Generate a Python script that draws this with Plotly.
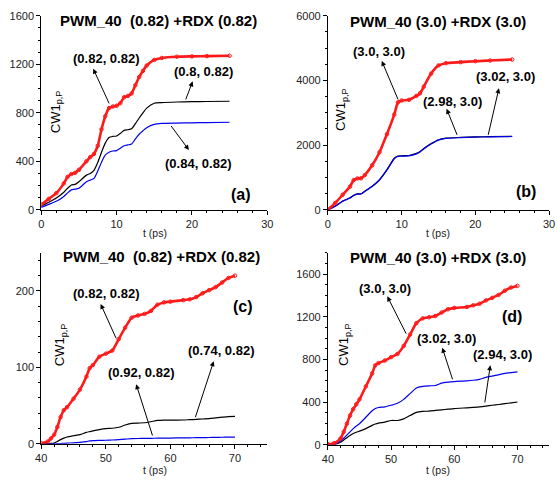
import plotly.graph_objects as go

PAGE_W, PAGE_H, OFF = 558, 483, 0
W, H = PAGE_W - OFF, PAGE_H - OFF

# ---------------- data ----------------
t_a = [0, 1, 2, 3, 3.5, 4, 4.5, 5, 6, 6.5, 7, 7.5, 8, 8.5, 9, 9.5, 10, 10.5, 11, 11.5,
       12, 12.5, 13, 13.5, 14, 15, 16, 18, 20, 22, 25]
red_a = [43, 90, 137, 218, 272, 295, 305, 330, 400, 434, 461, 528, 663, 771, 839, 852, 858,
         879, 928, 939, 960, 1028, 1095, 1145, 1190, 1236, 1252, 1262, 1265, 1267, 1270]
black_a = [30, 62, 97, 145, 178, 205, 210, 232, 286, 300, 326, 390, 474, 550, 596, 605, 609,
           630, 655, 660, 668, 710, 757, 800, 838, 879, 884, 889, 892, 893, 895]
blue_a = [20, 45, 70, 110, 140, 164, 170, 178, 232, 245, 259, 320, 393, 450, 474, 485, 488,
          508, 528, 535, 542, 585, 623, 652, 677, 704, 712, 715, 717, 719, 722]

t_b = [0, 1, 2, 3, 3.5, 4, 4.5, 5, 6, 7, 8, 9, 9.5, 10, 11, 12, 12.5, 13, 14, 15, 16, 18,
       20, 22, 25]
red_b = [0, 212, 465, 718, 920, 970, 975, 1073, 1376, 1781, 2338, 2945, 3320, 3381, 3400,
         3522, 3603, 3806, 4211, 4464, 4534, 4565, 4595, 4615, 4646]
blue_b = [0, 111, 263, 364, 445, 486, 490, 567, 719, 921, 1225, 1579, 1650, 1660, 1665,
          1731, 1790, 1883, 2034, 2156, 2206, 2230, 2247, 2255, 2267]
black_b = [0, 115, 268, 370, 452, 492, 495, 574, 728, 932, 1240, 1595, 1665, 1672, 1678,
           1745, 1802, 1895, 2048, 2168, 2215, 2238, 2254, 2262, 2275]

t_c = [40, 41, 41.5, 42, 42.5, 43, 43.5, 44, 45, 46, 47, 47.5, 48, 49, 50, 51, 52, 53, 54,
       55, 56, 57, 58, 59, 60, 62, 63, 64, 65, 66, 67, 68, 69, 70]
red_c = [1, 3, 7, 12, 22, 35, 44, 48, 59, 71, 88, 99, 103, 114, 118, 122, 137, 152, 165,
         168, 170, 174, 182, 185, 186, 188, 189, 192, 197, 201, 205, 211, 217, 220]
black_c = [0, 0.3, 0.5, 1, 3, 5.5, 7.5, 9, 10.6, 12, 15, 16, 17, 18.7, 20, 20.4, 21.7, 24.6,
           26.8, 27.2, 27.6, 29, 30.6, 31, 31, 31.2, 31.6, 32, 32.5, 33, 34, 35, 35.5, 36]
blue_c = [0, 0, 0, 0.1, 0.2, 0.4, 0.6, 0.9, 1.3, 2, 3, 3.8, 4.2, 4.5, 4.7, 5, 5.5, 6.1, 6.8,
          7, 7.1, 7.2, 7.4, 7.5, 7.6, 7.8, 7.9, 8, 8.1, 8.3, 8.5, 8.6, 8.8, 8.9]

t_d = [40, 41, 42, 42.5, 43, 43.5, 44, 44.5, 45, 46, 47, 47.5, 48, 49, 50, 51, 52, 53, 54,
       55, 56, 57, 58, 59, 60, 62, 63, 64, 65, 66, 67, 68, 69, 70]
red_d = [6, 15, 61, 122, 198, 274, 334, 380, 426, 547, 669, 745, 766, 790, 821, 851, 927,
         1033, 1140, 1185, 1195, 1207, 1240, 1270, 1283, 1292, 1307, 1322, 1353, 1377, 1404,
         1444, 1474, 1489]
blue_d = [0, 6, 36, 62, 91, 122, 152, 176, 198, 258, 319, 340, 350, 356, 371, 389, 426, 480,
          532, 547, 553, 556, 578, 587, 593, 599, 605, 614, 632, 644, 656, 669, 677, 684]
black_d = [0, 2, 24, 45, 67, 88, 106, 118, 128, 152, 182, 195, 204, 213, 228, 228, 243, 274,
           304, 313, 316, 322, 328, 334, 340, 347, 351, 356, 363, 371, 378, 386, 393, 401]

titles = ["PWM_40\u00a0 (0.82) +RDX (0.82)", "PWM_40 (3.0) +RDX (3.0)",
          "PWM_40\u00a0 (0.82) +RDX (0.82)", "PWM_40 (3.0) +RDX (3.0)"]
panel_tags = ["(a)", "(b)", "(c)", "(d)"]
x_ranges = [[0, 30], [0, 30], [40, 75], [40, 75]]
y_ranges = [[0, 1600], [0, 6000], [0, 250], [0, 1800]]
x_dticks = [10, 10, 10, 10]
y_dticks = [400, 2000, 100, 400]

FONT = "Liberation Sans, Arial, sans-serif"
RED, BLACK, BLUE = "#ff1a1a", "#000000", "#0000ee"

fig = go.Figure()

def px(x, y):
    """page pixel position -> paper coordinates"""
    return (x - OFF) / W, (PAGE_H - y) / H

# page-pixel boxes of the four plot areas: (left, right, top, bottom)
boxes = [(36, 267, 10, 209), (329, 555, 10, 209), (36, 267, 253, 449), (329, 555, 253, 450)]

panels = [
    (t_a, red_a, black_a, blue_a),
    (t_b, red_b, black_b, blue_b),
    (t_c, red_c, black_c, blue_c),
    (t_d, red_d, black_d, blue_d),
]

for i, (t, r, k, b) in enumerate(panels):
    n = "" if i == 0 else str(i + 1)
    xa, ya = "x" + n, "y" + n
    for vals, col in [(k, BLACK), (b, BLUE)]:
        fig.add_trace(go.Scatter(x=t, y=vals, mode="lines", xaxis=xa, yaxis=ya,
                                 line=dict(color=col, width=1.2, shape="spline", smoothing=0.6)))
    fig.add_trace(go.Scatter(x=t, y=r, mode="lines+markers", xaxis=xa, yaxis=ya,
                             line=dict(color=RED, width=2.6, shape="spline", smoothing=0.6),
                             marker=dict(symbol="circle-open", size=3.5, color=RED,
                                         line=dict(width=1, color="#ff6060"))))
    L, R, T, B = boxes[i]
    x0, y0 = px(L, B)
    x1, y1 = px(R, T)
    axis_common = dict(showgrid=False, zeroline=False, showline=True, linecolor="black",
                       linewidth=1, ticks="outside", ticklen=4, tickwidth=1, tickcolor="black",
                       tickfont=dict(family=FONT, size=11, color="#222"),
                       minor=dict(ticks="outside", ticklen=2, tickcolor="black"))
    fig.update_layout(**{
        "xaxis" + n: dict(axis_common, domain=[x0, min(x1, 1)], range=x_ranges[i],
                          dtick=x_dticks[i], tick0=0, anchor=ya, mirror=False),
        "yaxis" + n: dict(axis_common, domain=[y0, y1], range=y_ranges[i],
                          dtick=y_dticks[i], tick0=0, anchor=xa, mirror=False),
    })

anns = []
# titles, panel tags, axis titles (page pixel positions -> paper)
title_pos = [(156, 15), (442, 16), (159, 257), (442, 258)]
tag_pos = [(240, 193), (531, 190), (242, 308), (517, 318)]
ytitle_pos = [(51, 108), (343, 106), (56, 347), (346, 347)]
xtitle_pos = [(152, 233), (442, 233), (152, 476), (442, 476)]
C = dict(xref="paper", yref="paper", xanchor="center", yanchor="middle", showarrow=False)
for i in range(4):
    x, y = px(*title_pos[i])
    anns.append(dict(C, text="<b>" + titles[i] + "</b>", x=x, y=y,
                     font=dict(family=FONT, size=15, color="black")))
    x, y = px(*tag_pos[i])
    anns.append(dict(C, text="<b>" + panel_tags[i] + "</b>", x=x, y=y,
                     font=dict(family=FONT, size=16, color="black")))
    x, y = px(*ytitle_pos[i])
    anns.append(dict(C, text="CW1<sub>p,P</sub>", x=x, y=y, textangle=-90,
                     font=dict(family=FONT, size=13, color="black")))
    x, y = px(*xtitle_pos[i])
    anns.append(dict(C, text="t (ps)", x=x, y=y,
                     font=dict(family=FONT, size=10.5, color="#222")))

# curve labels: (panel, text, text_x, text_y, head_x, head_y, tail_x, tail_y) in data coords
labels = [
    (0, "(0.82, 0.82)", 8.7, 1244, 6.9, 1164, 9.1, 865),
    (0, "(0.8, 0.82)", 21.6, 1139, 20.1, 1059, 19.1, 897),
    (0, "(0.84, 0.82)", 20.9, 380, 19.6, 493, 17.1, 703),
    (1, "(3.0, 3.0)", 6.9, 4909, 7.3, 4606, 9.6, 3364),
    (1, "(2.98, 3.0)", 16.9, 3364, 16.1, 3121, 17.6, 2273),
    (1, "(3.02, 3.0)", 24.1, 4121, 23.2, 3758, 21.7, 2273),
    (2, "(0.82, 0.82)", 50.15, 196, 49.2, 183, 51.7, 136),
    (2, "(0.74, 0.82)", 67.9, 122, 66.7, 108, 63.8, 33),
    (2, "(0.92, 0.82)", 55.5, 93, 54.7, 78, 57.3, 9),
    (3, "(3.0, 3.0)", 49.1, 1464, 49.4, 1391, 52.5, 1027),
    (3, "(3.02, 3.0)", 58.7, 1000, 58.1, 909, 59.8, 600),
    (3, "(2.94, 3.0)", 67.7, 845, 65.7, 745, 64.8, 382),
]
for p, txt, tx, ty, hx, hy, sx, sy in labels:
    n = "" if p == 0 else str(p + 1)
    xa, ya = "x" + n, "y" + n
    anns.append(dict(text="<b>" + txt + "</b>", x=tx, y=ty, xref=xa, yref=ya, showarrow=False,
                     xanchor="center", yanchor="middle",
                     font=dict(family=FONT, size=13, color="black")))
    anns.append(dict(text="", x=hx, y=hy, xref=xa, yref=ya, ax=sx, ay=sy, axref=xa, ayref=ya,
                     showarrow=True, arrowhead=2, arrowsize=1, arrowwidth=1, arrowcolor="black"))

fig.update_layout(width=W, height=H, margin=dict(l=0, r=0, t=0, b=0), showlegend=False,
                  plot_bgcolor="white", paper_bgcolor="white", annotations=anns,
                  font=dict(family=FONT), hovermode=False)

# remove the browser's default page margin so the figure sits at the page origin
fig.write_html("out.html", config={"displayModeBar": False, "staticPlot": True},
               post_script="document.body.style.margin='0px';document.body.style.overflow='hidden';")
